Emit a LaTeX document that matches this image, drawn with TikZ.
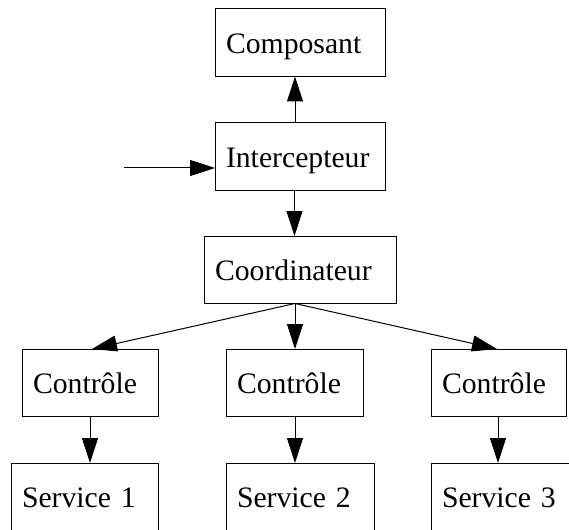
\documentclass[tikz,border=0pt]{standalone}
\usepackage{fontspec}
\setmainfont{Liberation Serif}
\usetikzlibrary{arrows.meta}
\begin{document}
\begin{tikzpicture}[x=1pt,y=-1pt,
  box/.style={draw, line width=1pt, inner xsep=11pt, inner ysep=0pt,
    minimum height=67.5pt, text height=22pt, text depth=0pt, align=left,
    anchor=north west, outer sep=0pt, font=\fontsize{29.7}{34}\selectfont},
  arr/.style={line width=1pt, -{Triangle[length=25pt,width=16pt]}}]
\clip (0,0) rectangle (569,529);
\node[box, text width=148pt] (comp)  at (215,9)   {Composant};
\node[box, text width=148pt] (inter) at (215,123) {Intercepteur};
\node[box, text width=170pt] (coord) at (204,236) {Coordinateur};
\node[box, text width=114pt] (c1) at (22,349)  {Contrôle};
\node[box, text width=115pt] (c2) at (226,349) {Contrôle};
\node[box, text width=113pt] (c3) at (431,349) {Contrôle};
\node[box, text width=125pt] (s1) at (11,463)  {Service 1};
\node[box, text width=126pt] (s2) at (226,463) {Service 2};
\node[box, text width=126pt] (s3) at (431,463) {Service 3};
\coordinate (src) at (124,168);
\draw[arr] (src) -- (src -| inter.west);
\draw[arr] ([xshift=80pt]inter.north west) -- ([xshift=80pt]comp.south west);
\draw[arr] ([xshift=79.5pt]inter.south west) -- ([xshift=90.5pt]coord.north west);
\draw[arr] ([xshift=91pt]coord.south west) -- ([xshift=70pt]c1.north west);
\draw[arr] ([xshift=91pt]coord.south west) -- ([xshift=69pt]c2.north west);
\draw[arr] ([xshift=91pt]coord.south west) -- ([xshift=66pt]c3.north west);
\draw[arr] ([xshift=68pt]c1.south west) -- ([xshift=79pt]s1.north west);
\draw[arr] ([xshift=69pt]c2.south west) -- ([xshift=69pt]s2.north west);
\draw[arr] ([xshift=67pt]c3.south west) -- ([xshift=67pt]s3.north west);
\end{tikzpicture}
\end{document}
